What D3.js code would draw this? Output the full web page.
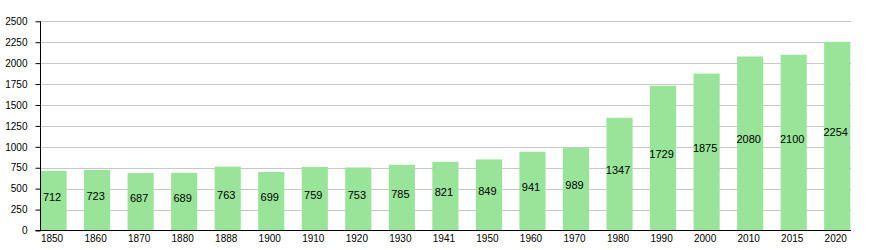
<!DOCTYPE html>
<html>
<head>
<meta charset="utf-8">
<script src="https://cdn.jsdelivr.net/npm/d3@7"></script>
<style>
  html, body { margin: 0; padding: 0; background: #fff; }
  svg { display: block; }
  text { font-family: "Liberation Sans", Arial, Helvetica, sans-serif; fill: #000; }
</style>
</head>
<body>
<svg id="chart" width="885" height="250"></svg>
<script>
const years = ["1850","1860","1870","1880","1888","1900","1910","1920","1930","1941","1950","1960","1970","1980","1990","2000","2010","2015","2020"];
const population = [712,723,687,689,763,699,759,753,785,821,849,941,989,1347,1729,1875,2080,2100,2254];
const yTicks = [0,250,500,750,1000,1250,1500,1750,2000,2250,2500];

const svg = d3.select("#chart");
const plotLeft = 40.5, plotRight = 851, plotTop = 21.3, plotBottom = 230.5;

const x = d3.scaleBand().domain(years).range([plotLeft, 850.3]).paddingInner(0.4).paddingOuter(0).align(0);
const y = d3.scaleLinear().domain([0, 2500]).range([plotBottom, plotTop]);

// gridlines
svg.append("g").selectAll("line").data(yTicks.filter(d => d > 0)).join("line")
  .attr("x1", plotLeft).attr("x2", plotRight)
  .attr("y1", d => Math.round(y(d)) + 0.5).attr("y2", d => Math.round(y(d)) + 0.5)
  .attr("stroke", "#c8c8c8").attr("stroke-width", 1);

// bars
svg.append("g").selectAll("rect").data(years).join("rect")
  .attr("x", d => x(d))
  .attr("y", (d, i) => y(population[i]))
  .attr("width", x.bandwidth())
  .attr("height", (d, i) => plotBottom - y(population[i]))
  .attr("fill", "#98e498");

// value labels
svg.append("g").selectAll("text").data(years).join("text")
  .attr("x", d => x(d) + x.bandwidth() / 2 - 1.5)
  .attr("y", (d, i) => (y(population[i]) + plotBottom) / 2)
  .attr("text-anchor", "middle")
  .attr("font-size", "11px")
  .text((d, i) => population[i]);

// y axis
const yAxis = svg.append("g").attr("transform", `translate(${plotLeft},0)`)
  .call(d3.axisLeft(y).tickValues(yTicks).tickSize(5).tickPadding(8).tickFormat(d3.format("d")));
yAxis.selectAll("path, line").attr("stroke", "#000");
yAxis.selectAll("text").attr("font-size", "10px").attr("font-family", "'Liberation Sans', Arial, sans-serif").attr("fill", "#000");
yAxis.select(".domain").attr("d", `M0,${plotTop}V${plotBottom}`);

// x axis
const xAxis = svg.append("g").attr("transform", `translate(0,${plotBottom})`)
  .call(d3.axisBottom(x).tickSize(0).tickPadding(4.5));
xAxis.select(".domain").attr("d", `M${plotLeft - 5},0H${plotRight}`).attr("stroke", "#000");
xAxis.selectAll(".tick").attr("transform", d => `translate(${x(d) + x.bandwidth() / 2 - 1.5},0)`);
xAxis.selectAll("text").attr("font-size", "10px").attr("font-family", "'Liberation Sans', Arial, sans-serif").attr("fill", "#000");
</script>
</body>
</html>
